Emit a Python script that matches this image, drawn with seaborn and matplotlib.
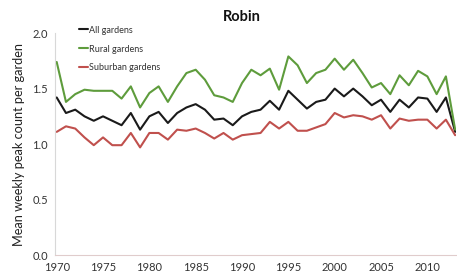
import pandas as pd
import matplotlib.pyplot as plt
import seaborn as sns

# Data
years = list(range(1970, 2014))

all_gardens = [1.42, 1.28, 1.31, 1.25, 1.21, 1.25, 1.21, 1.17, 1.28, 1.13,
               1.25, 1.29, 1.19, 1.28, 1.33, 1.36, 1.31, 1.22, 1.23, 1.17,
               1.25, 1.29, 1.31, 1.39, 1.31, 1.48, 1.40, 1.32, 1.38, 1.40,
               1.50, 1.43, 1.50, 1.43, 1.35, 1.40, 1.29, 1.40, 1.33, 1.42,
               1.41, 1.29, 1.42, 1.11]

rural = [1.74, 1.38, 1.45, 1.49, 1.48, 1.48, 1.48, 1.41, 1.52, 1.33,
         1.46, 1.52, 1.38, 1.52, 1.64, 1.67, 1.58, 1.44, 1.42, 1.38,
         1.55, 1.67, 1.62, 1.68, 1.49, 1.79, 1.71, 1.55, 1.64, 1.67,
         1.77, 1.67, 1.76, 1.64, 1.51, 1.55, 1.45, 1.62, 1.53, 1.66,
         1.61, 1.45, 1.61, 1.13]

suburban = [1.11, 1.16, 1.14, 1.06, 0.99, 1.06, 0.99, 0.99, 1.10, 0.97,
            1.10, 1.10, 1.04, 1.13, 1.12, 1.14, 1.10, 1.05, 1.10, 1.04,
            1.08, 1.09, 1.10, 1.20, 1.14, 1.20, 1.12, 1.12, 1.15, 1.18,
            1.28, 1.24, 1.26, 1.25, 1.22, 1.26, 1.14, 1.23, 1.21, 1.22,
            1.22, 1.14, 1.22, 1.08]

series_names = ["All gardens", "Rural gardens", "Suburban gardens"]
colors = ["#1a1a1a", "#5e9c3c", "#c0504d"]

df = pd.DataFrame({
    "year": years * 3,
    "value": all_gardens + rural + suburban,
    "series": [n for n in series_names for _ in years],
})

sns.set_theme(style="white")
plt.rcParams["font.family"] = ["Lato", "DejaVu Sans"]

fig = plt.figure(figsize=(4.57, 2.76), dpi=100)
ax = fig.add_axes([0.120, 0.076, 0.878, 0.804])

sns.lineplot(data=df, x="year", y="value", hue="series",
             palette=dict(zip(series_names, colors)), linewidth=1.5, ax=ax)

ax.set_xlim(1969.8, 2013.1)
ax.set_ylim(0, 2.0)
ax.set_xticks(range(1970, 2011, 5))
ax.set_yticks([0.0, 0.5, 1.0, 1.5, 2.0])
ax.set_yticklabels(["0.0", "0.5", "1.0", "1.5", "2.0"])
ax.tick_params(axis="both", labelsize=8, colors="#333333", length=3,
               width=0.6, direction="out", pad=2)
ax.tick_params(axis="x", color="#d9c8c8")
ax.tick_params(axis="y", color="#cccccc")

for side in ["top", "right"]:
    ax.spines[side].set_visible(False)
ax.spines["left"].set_color("#d8d8d8")
ax.spines["bottom"].set_color("#e0cccc")
ax.spines["left"].set_linewidth(0.8)
ax.spines["bottom"].set_linewidth(0.8)

ax.set_xlabel("")
ax.set_ylabel("Mean weekly peak count per garden", fontsize=9.2, color="#222222",
              labelpad=5)
ax.set_title("Robin", fontsize=10.5, fontweight="bold", color="#111111", pad=9,
             x=0.465)

leg = ax.legend(loc="upper left", bbox_to_anchor=(0.05, 1.05), frameon=False,
                fontsize=6.5, handlelength=1.0, handletextpad=0.15,
                labelspacing=1.1, borderaxespad=0)
for t in leg.get_texts():
    t.set_color("#333333")

fig.savefig("out.png", dpi=100)
